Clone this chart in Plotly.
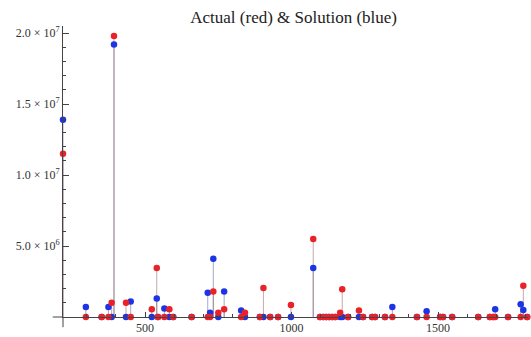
import plotly.graph_objects as go

# Data (x position, actual = red, solution = blue)
x_pos = [220, 298, 352, 375, 386, 394, 435, 451, 523, 540, 544, 566, 583, 596, 659,
         714, 722, 733, 750, 770, 828, 841, 892, 904, 927, 954, 998, 1074,
         1097, 1108, 1118, 1128, 1139, 1149, 1166, 1173, 1193, 1230, 1244, 1275,
         1285, 1319, 1344, 1428, 1461, 1507, 1517, 1548, 1637, 1677, 1688, 1695,
         1739, 1782, 1791, 1804]
actual = [11.5e6, 0, 0, 0, 1.0e6, 19.8e6, 1.0e6, 0, 0.55e6, 3.45e6, 0, 0, 0.55e6, 0, 0,
          0, 0, 1.8e6, 0.3e6, 0.55e6, 0, 0.3e6, 0, 2.05e6, 0, 0, 0.85e6, 5.5e6,
          0, 0, 0, 0, 0, 0, 0.3e6, 1.95e6, 0, 0.45e6, 0, 0,
          0, 0, 0, 0, 0, 0, 0, 0, 0, 0, 0, 0,
          0, 0, 2.2e6, 0]
solution = [13.9e6, 0.7e6, 0, 0.7e6, 0, 19.2e6, 0, 1.1e6, 0, 1.3e6, 0, 0.6e6, 0, 0, 0,
            1.7e6, 0.3e6, 4.1e6, 0, 1.8e6, 0.45e6, 0, 0, 0, 0, 0, 0, 3.45e6,
            0, 0, 0, 0, 0, 0, 0, 0, 0, 0, 0, 0,
            0, 0, 0.7e6, 0, 0.4e6, 0, 0, 0, 0, 0, 0, 0.55e6,
            0, 0.9e6, 0.5e6, 0]

y_tickvals = [5e6, 1e7, 1.5e7, 2e7]
y_ticktext = ["5.0 × 10<sup>6</sup>", "1.0 × 10<sup>7</sup>", "1.5 × 10<sup>7</sup>", "2.0 × 10<sup>7</sup>"]
x_tickvals = [500, 1000, 1500]
x_ticktext = ["500", "1000", "1500"]

RED = "rgb(232,34,40)"
BLUE = "rgb(28,52,228)"


def stems(xs, ys):
    sx, sy = [], []
    for xv, yv in zip(xs, ys):
        if yv:
            sx += [xv, xv, None]
            sy += [0, yv, None]
    return sx, sy


fig = go.Figure()
for vals, col in ((solution, "rgba(90,100,150,0.55)"), (actual, "rgba(150,100,100,0.55)")):
    sx, sy = stems(x_pos, vals)
    fig.add_trace(go.Scatter(x=sx, y=sy, mode="lines", line=dict(color=col, width=1),
                             hoverinfo="skip", showlegend=False, cliponaxis=False))

fig.add_trace(go.Scatter(x=x_pos, y=solution, mode="markers", name="Solution",
                         marker=dict(color=BLUE, size=6.5), cliponaxis=False, showlegend=False))
fig.add_trace(go.Scatter(x=x_pos, y=actual, mode="markers", name="Actual",
                         marker=dict(color=RED, size=6.5), cliponaxis=False, showlegend=False))

axis_col = "#444444"
font_serif = "Liberation Serif, Times New Roman, serif"

fig.update_layout(
    width=531, height=337,
    margin=dict(l=63, r=3, t=26, b=20, autoexpand=False),
    paper_bgcolor="white", plot_bgcolor="white",
    title=dict(text="Actual (red) &amp; Solution (blue)", x=0.553, xanchor="center",
               y=1 - 17 / 337, yanchor="middle", automargin=False,
               font=dict(family=font_serif, size=17, color="#222")),
    font=dict(family=font_serif, size=12, color="#333"),
    xaxis=dict(range=[220, 1807], showgrid=False, zeroline=False, automargin=False,
               showline=True, linecolor=axis_col, linewidth=1,
               tickmode="array", tickvals=x_tickvals, ticktext=x_ticktext,
               ticks="inside", ticklen=5, tickcolor=axis_col, tickwidth=1,
               tickfont=dict(size=12, family=font_serif, color="#333"),
               minor=dict(tickmode="linear", tick0=0, dtick=100, ticks="inside",
                          ticklen=3, tickcolor=axis_col)),
    yaxis=dict(range=[0, 2.05e7], showgrid=False, zeroline=False, automargin=False,
               showline=True, linecolor=axis_col, linewidth=1,
               tickmode="array", tickvals=y_tickvals, ticktext=y_ticktext,
               ticks="inside", ticklen=6, tickcolor=axis_col, tickwidth=1,
               tickfont=dict(size=12, family=font_serif, color="#333"),
               minor=dict(tickmode="linear", tick0=0, dtick=1e6, ticks="inside",
                          ticklen=3, tickcolor=axis_col)),
    shapes=[
        dict(type="line", xref="paper", yref="paper", x0=-0.022, x1=0, y0=0, y1=0,
             line=dict(color=axis_col, width=1)),
        dict(type="line", xref="paper", yref="paper", x0=0, x1=0, y0=-0.035, y1=0,
             line=dict(color=axis_col, width=1)),
    ],
)

fig.write_html("out.html", config={"displayModeBar": False},
               post_script="document.body.style.margin='0';document.body.style.overflow='hidden';")
